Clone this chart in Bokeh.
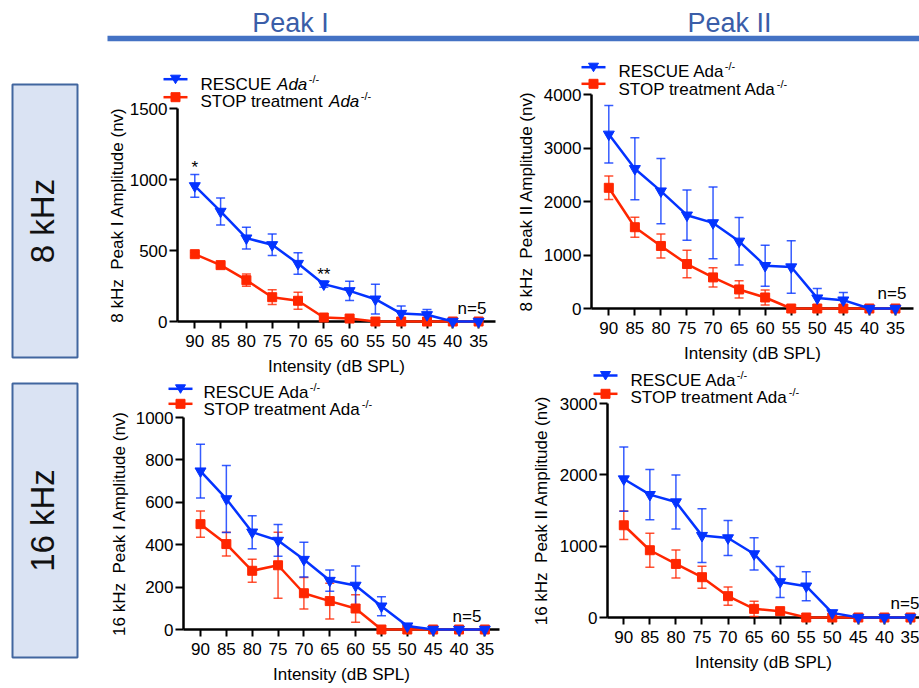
import math
from bokeh.plotting import figure
from bokeh.models import Range1d, FixedTicker, ColumnDataSource, Whisker, TeeHead
from bokeh.layouts import column, row
from bokeh.core.properties import value
from bokeh.embed import file_html
from bokeh.resources import INLINE

# ---------------- data ----------------
intensity_labels = ["90", "85", "80", "75", "70", "65", "60", "55", "50", "45", "40", "35"]
series_prefix = ["RESCUE ", "STOP treatment "]
genotype = "Ada"
genotype_sup = "-/-"
n_label = "n=5"
column_titles = ["Peak I", "Peak II"]
row_titles = ["8 kHz", "16 kHz"]
x_title = "Intensity (dB SPL)"

rescue_8k_peak1 = [955, 775, 587, 540, 408, 263, 216, 157, 56, 47, 0, 0]
rescue_8k_peak1_sem = [80, 95, 77, 76, 76, 22, 68, 105, 54, 38, 0, 0]
stop_8k_peak1 = [474, 397, 291, 171, 146, 28, 21, 0, 0, 0, 0, 0]
stop_8k_peak1_sem = [12, 15, 43, 52, 60, 10, 8, 0, 0, 0, 0, 0]

rescue_8k_peak2 = [3256, 2612, 2194, 1744, 1600, 1256, 800, 775, 194, 156, 0, 0]
rescue_8k_peak2_sem = [537, 578, 612, 470, 670, 444, 384, 490, 180, 144, 0, 0]
stop_8k_peak2 = [2256, 1519, 1169, 831, 581, 356, 206, 0, 0, 0, 0, 0]
stop_8k_peak2_sem = [220, 188, 225, 256, 180, 162, 140, 0, 0, 0, 0, 0]

rescue_16k_peak1 = [747, 616, 459, 420, 330, 231, 208, 110, 16, 0, 0, 0]
rescue_16k_peak1_sem = [127, 158, 78, 75, 82, 50, 91, 45, 10, 0, 0, 0]
stop_16k_peak1 = [497, 403, 277, 303, 171, 134, 99, 0, 0, 0, 0, 0]
stop_16k_peak1_sem = [62, 56, 54, 156, 74, 84, 65, 0, 0, 0, 0, 0]

rescue_16k_peak2 = [1941, 1722, 1619, 1148, 1115, 891, 499, 439, 65, 0, 0, 0]
rescue_16k_peak2_sem = [450, 352, 380, 378, 245, 226, 217, 203, 30, 0, 0, 0]
stop_16k_peak2 = [1293, 943, 751, 565, 299, 121, 89, 0, 0, 0, 0, 0]
stop_16k_peak2_sem = [200, 238, 196, 154, 128, 108, 40, 0, 0, 0, 0, 0]

sig_8k_peak1_idx = [0, 5]
sig_8k_peak1_text = ["*", "**"]

# ---------------- style / layout ----------------
FONT = "Liberation Sans"
BLUE = "#0433FF"
RED = "#FF2600"
HEAD_BLUE = "#4472C4"
HEAD_TEXT = "#3A5DA8"
BOX_FILL = "#DAE3F3"
BOX_LINE = "#41669F"
NB = "\u00a0"

EM = {' ': .278, 'A': .667, 'C': .722, 'D': .722, 'E': .667, 'O': .778, 'P': .667,
      'R': .722, 'S': .667, 'T': .611, 'U': .722, 'a': .556, 'd': .556, 'e': .556,
      'm': .833, 'n': .556, 'r': .333, 't': .278, '-': .333, '/': .278}


def tw(s, fs):
    return sum(EM.get(c, 0.556) for c in s) * fs


PANELS = {
    "p1": dict(W=400, H=324, fx=100, fy=56, ax=177, t0=194.3, sp=25.8, xend=495,
               y0=321, ytop=108, ymax=1500, yticks=[0, 500, 1000, 1500],
               ylabel="8 kHz" + NB + " Peak I Amplitude (nv)", ylx=117, italic=True,
               mx=175, my=(78.7, 96.7), tx=200, tc=(84, 101.3), n=(457, 308)),
    "p2": dict(W=419, H=310, fx=500, fy=56, ax=591, t0=608.3, sp=26.06, xend=913,
               y0=308, ytop=94, ymax=4000, yticks=[0, 1000, 2000, 3000, 4000],
               ylabel="8 kHz" + NB + " Peak II Amplitude (nv)", ylx=526, italic=False,
               mx=593, my=(66.7, 83.3), tx=618, tc=(70.7, 89), n=(877, 293)),
    "p3": dict(W=400, H=308, fx=100, fy=380, ax=183, t0=200, sp=25.85, xend=499,
               y0=629, ytop=417, ymax=1000, yticks=[0, 200, 400, 600, 800, 1000],
               ylabel="16 kHz" + NB + " Peak I Amplitude (nv)", ylx=118.5, italic=False,
               mx=180, my=(388.3, 403.3), tx=203, tc=(392.3, 409), n=(452, 616)),
    "p4": dict(W=419, H=322, fx=500, fy=366, ax=607, t0=623.3, sp=26.06, xend=919,
               y0=617, ytop=403, ymax=3000, yticks=[0, 1000, 2000, 3000],
               ylabel="16 kHz" + NB + " Peak II Amplitude (nv)", ylx=541, italic=False,
               mx=605, my=(375, 393.3), tx=630, tc=(380, 397.3), n=(890, 603)),
}

# legend marker outlines in screen pixels (dx, dy with dy downward)
TRI_PX = [(-5, -4), (5, -4), (0, 4.5)]
SQ_PX = [(-4.5, -4.5), (4.5, -4.5), (4.5, 4.5), (-4.5, 4.5)]


def panel(cfg, rescue, rescue_sem, stop, stop_sem, sig_idx=None, sig_text=None):
    W, H, fx, fy = cfg["W"], cfg["H"], cfg["fx"], cfg["fy"]
    ax, t0, sp, xend = cfg["ax"], cfg["t0"], cfg["sp"], cfg["xend"]
    y0, ytop, ymax = cfg["y0"], cfg["ytop"], cfg["ymax"]
    ppu = (y0 - ytop) / ymax

    def X(px):
        return (px - t0) / sp

    def Y(py):
        return (y0 - py) / ppu

    p = figure(width=W, height=H, x_range=Range1d(X(ax), X(xend)), y_range=Range1d(0, ymax),
               output_backend="svg", toolbar_location=None, title=None,
               min_border_left=ax - fx, min_border_right=fx + W - xend,
               min_border_top=ytop - fy, min_border_bottom=fy + H - y0)
    try:
        p.frame_align = False
    except Exception:
        pass
    p.outline_line_color = None
    p.grid.grid_line_color = None
    p.background_fill_color = "white"
    p.border_fill_color = "white"

    xs = list(range(len(intensity_labels)))
    p.xaxis.ticker = FixedTicker(ticks=xs)
    p.xaxis.major_label_overrides = {i: lab for i, lab in enumerate(intensity_labels)}
    p.yaxis.ticker = FixedTicker(ticks=cfg["yticks"])
    p.xaxis.axis_label = x_title
    for a in (p.xaxis, p.yaxis):
        a.axis_line_width = 2.5
        a.axis_line_color = "black"
        a.major_tick_line_width = 2
        a.major_tick_line_color = "black"
        a.major_tick_in = 0
        a.minor_tick_line_color = None
        a.major_label_text_font = FONT
        a.major_label_text_font_size = "17px"
        a.major_label_text_color = "black"
        a.axis_label_text_font = FONT
        a.axis_label_text_font_size = "17px"
        a.axis_label_text_font_style = "normal"
        a.axis_label_text_color = "black"
    p.xaxis.major_tick_out = 7
    p.yaxis.major_tick_out = 8
    p.xaxis.major_label_standoff = 6
    p.yaxis.major_label_standoff = 2
    p.xaxis.axis_label_standoff = 7

    # y-axis title (rotated, beside the tick labels, centred on the axis)
    p.text(x=[X(cfg["ylx"])], y=[ymax / 2], text=[cfg["ylabel"]], angle=math.pi / 2,
           text_font=value(FONT), text_font_size=value("17px"), text_color="black",
           text_baseline="middle", text_align="center", level="overlay")

    series = [(stop, stop_sem, RED, "square", 9), (rescue, rescue_sem, BLUE, "inverted_triangle", 11)]
    for mean, sem, col, mk, sz in series:
        bx = [i for i in xs if sem[i] > 0]
        src = ColumnDataSource(dict(base=bx, upper=[mean[i] + sem[i] for i in bx],
                                    lower=[mean[i] - sem[i] for i in bx]))
        w = Whisker(source=src, base="base", upper="upper", lower="lower",
                    line_color=col, line_width=1.5, line_alpha=0.8, level="annotation",
                    upper_head=TeeHead(size=9, line_color=col, line_width=1.5, line_alpha=0.8),
                    lower_head=TeeHead(size=9, line_color=col, line_width=1.5, line_alpha=0.8))
        p.add_layout(w)
    for mean, sem, col, mk, sz in series:
        src = ColumnDataSource(dict(x=xs, y=mean))
        p.line("x", "y", source=src, line_color=col, line_width=2.5, level="overlay")
        p.scatter("x", "y", source=src, marker=mk, size=sz, fill_color=col, line_color=col,
                  level="overlay")

    # legend (drawn outside the frame, above the axis top)
    leg = [(BLUE, TRI_PX), (RED, SQ_PX)]
    fs = 17
    for k in range(2):
        col, shape = leg[k]
        my = cfg["my"][k]
        mx = cfg["mx"]
        p.segment(x0=[X(mx - 12)], y0=[Y(my)], x1=[X(mx + 12)], y1=[Y(my)],
                  line_color=col, line_width=2.5, level="overlay")
        p.patch(x=[X(mx + dx) for dx, dy in shape], y=[Y(my + dy) for dx, dy in shape],
                fill_color=col, line_color=col, line_width=1, level="overlay")
        tx = cfg["tx"]
        tc = cfg["tc"][k]
        pre = series_prefix[k]
        common = dict(text_font=value(FONT), text_color="black", text_baseline="middle",
                      text_align="left", level="overlay")
        if cfg["italic"]:
            p.text(x=[X(tx)], y=[Y(tc)], text=[pre.strip()], text_font_size=value("17px"), **common)
            x2 = tx + tw(pre, fs) + 1
            p.text(x=[X(x2)], y=[Y(tc)], text=[genotype], text_font_size=value("17px"),
                   text_font_style="italic", **common)
            x3 = x2 + tw(genotype, fs) + 1.5
        else:
            full = pre + genotype
            p.text(x=[X(tx)], y=[Y(tc)], text=[full], text_font_size=value("17px"), **common)
            x3 = tx + tw(full, fs) + 0.5
        p.text(x=[X(x3)], y=[Y(tc - 5.5)], text=[genotype_sup], text_font_size=value("11px"),
               **common)

    # n label
    nx, ny = cfg["n"]
    p.text(x=[X(nx)], y=[Y(ny)], text=[n_label], text_font=value(FONT),
           text_font_size=value("17px"), text_color="black", text_baseline="middle",
           text_align="left", level="overlay")

    if sig_idx:
        p.text(x=sig_idx, y=[rescue[i] + rescue_sem[i] for i in sig_idx], text=sig_text,
               y_offset=-7, text_font=value(FONT), text_font_size=value("17px"),
               text_color="black", text_baseline="middle", text_align="center",
               level="overlay")
    return p


p1 = panel(PANELS["p1"], rescue_8k_peak1, rescue_8k_peak1_sem, stop_8k_peak1, stop_8k_peak1_sem,
           sig_8k_peak1_idx, sig_8k_peak1_text)
p2 = panel(PANELS["p2"], rescue_8k_peak2, rescue_8k_peak2_sem, stop_8k_peak2, stop_8k_peak2_sem)
p3 = panel(PANELS["p3"], rescue_16k_peak1, rescue_16k_peak1_sem, stop_16k_peak1, stop_16k_peak1_sem)
p4 = panel(PANELS["p4"], rescue_16k_peak2, rescue_16k_peak2_sem, stop_16k_peak2, stop_16k_peak2_sem)

# header
HH = 56
head = figure(width=919, height=HH, x_range=Range1d(0, 919), y_range=Range1d(0, HH),
              x_axis_type=None, y_axis_type=None, output_backend="svg", toolbar_location=None,
              title=None, min_border=0)
head.outline_line_color = None
head.segment(x0=[107], y0=[HH - 38], x1=[919], y1=[HH - 38], line_color=HEAD_BLUE, line_width=5.5)
head.text(x=[290, 729], y=[HH - 22, HH - 22], text=column_titles, text_align="center",
          text_baseline="middle", text_font=value(FONT), text_font_size=value("27px"),
          text_color=HEAD_TEXT)

# row boxes
BH = 632
boxes = figure(width=100, height=BH, x_range=Range1d(0, 100), y_range=Range1d(0, BH),
               x_axis_type=None, y_axis_type=None, output_backend="svg", toolbar_location=None,
               title=None, min_border=0)
boxes.outline_line_color = None
box_top = [84 - HH, 383 - HH]
box_bot = [357 - HH, 657 - HH]
boxes.quad(left=[12, 12], right=[77, 77], top=[BH - t for t in box_top],
           bottom=[BH - b for b in box_bot], fill_color=BOX_FILL, line_color=BOX_LINE, line_width=2)
boxes.text(x=[42, 42], y=[BH - (t + b) / 2 for t, b in zip(box_top, box_bot)], text=row_titles,
           angle=math.pi / 2, text_align="center", text_baseline="middle",
           text_font=value(FONT), text_font_size=value("33px"), text_color="#111111")

for f in (head, boxes):
    try:
        f.frame_align = False
    except Exception:
        pass

layout = column(head, row(boxes, column(p1, p3), column(p2, p4)))
open("out.html", "w").write(file_html(layout, INLINE))
